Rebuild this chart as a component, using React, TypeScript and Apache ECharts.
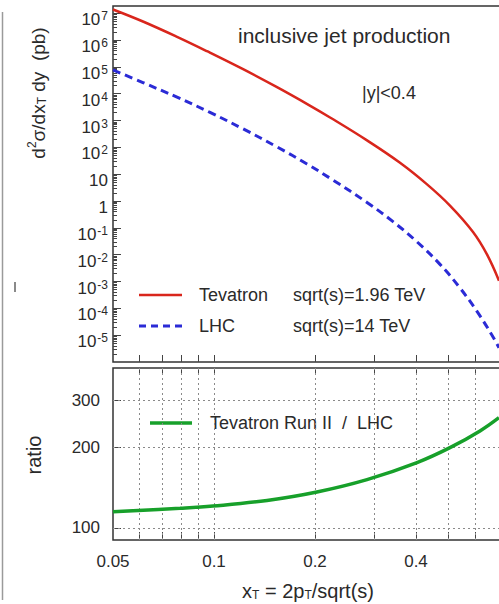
import React, { useEffect, useRef } from "react";
import * as echarts from "echarts";

// x_T sample points and cross sections d2sigma/dxT dy (pb), |y|<0.4
const tevatronX = [0.05, 0.0614, 0.0776, 0.0953, 0.1221, 0.1541, 0.1919, 0.2218, 0.2858, 0.3584, 0.4315, 0.505, 0.5916, 0.651, 0.707];
const tevatronY = [1.38e7, 4.92e6, 1.32e6, 3.85e5, 8.2e4, 1.75e4, 3.77e3, 1.3e3, 182, 26.7, 4.18, 0.678, 0.0703, 0.0103, 1.07e-3];

const lhcX = [0.05, 0.0614, 0.0776, 0.0973, 0.1221, 0.1541, 0.1893, 0.2263, 0.2858, 0.3417, 0.4028, 0.4717, 0.541, 0.608, 0.674, 0.707];
const lhcY = [7.67e4, 2.6e4, 7.43e3, 2.01e3, 489, 104, 24.0, 6.04, 0.883, 0.17, 0.0301, 4.36e-3, 5.74e-4, 7.66e-5, 1.0e-5, 3.39e-6];

// Tevatron Run II / LHC ratio
const ratioX = [0.05, 0.0792, 0.0993, 0.1439, 0.2027, 0.2858, 0.4028, 0.505, 0.6206, 0.707];
const ratioY = [114.9, 118.4, 120.7, 126.7, 136.3, 151.7, 175.7, 199.9, 231.1, 259.2];

// axis ticks and labels
const xTicks = [0.06, 0.07, 0.08, 0.09, 0.1, 0.2, 0.3, 0.4, 0.5, 0.6];
const xLabels = [0.05, 0.1, 0.2, 0.4];
const yMajor = [1e-5, 1e-4, 1e-3, 1e-2, 1e-1, 1, 10, 100, 1e3, 1e4, 1e5, 1e6, 1e7];
const ratioTicks = [100, 200, 300];

const FONT = "'Liberation Sans', Arial, Helvetica, sans-serif";
const INK = "#2a2a2a";
const RED = "#d9261c";
const BLUE = "#2b2bd6";
const GREEN = "#17a02a";

// minor log ticks 2..9 x 10^k inside the cross-section range
const yMinor: number[] = [];
for (let k = -6; k <= 7; k++) {
  for (let m = 2; m <= 9; m++) {
    const v = m * Math.pow(10, k);
    if (v > 1e-6 && v < 1.86e7) yMinor.push(v);
  }
}

const pairs = (xs: number[], ys: number[]) => xs.map((x, i) => [x, ys[i]]);

const powLabel = (v: number) => {
  const k = Math.round(Math.log10(v));
  if (k === 0) return "{b|1}";
  if (k === 1) return "{b|10}";
  return `{b|10}{e|${k}}`;
};

export default function App() {
  const ref = useRef<HTMLDivElement>(null);

  useEffect(() => {
    if (!ref.current) return;
    const chart = echarts.init(ref.current, undefined, { renderer: "svg" });

    const tickStyle = { color: "#444", width: 1 };
    const dotted = { color: "#8a8a8a", width: 1, type: [2, 3] as number[] };

    chart.setOption({
      animation: false,
      backgroundColor: "#fff",
      textStyle: { fontFamily: FONT },
      grid: [
        { left: 113, top: 6, width: 404, height: 356, show: true, borderColor: "#333", borderWidth: 1.5 },
        { left: 113, top: 368, width: 404, height: 172, show: true, borderColor: "#333", borderWidth: 1.5 },
      ],
      xAxis: [
        {
          gridIndex: 0, type: "log", logBase: 10, min: 0.05, max: 0.8,
          axisLine: { show: false },
          axisLabel: { show: false },
          axisTick: { inside: true, length: 7, lineStyle: tickStyle, customValues: xTicks },
          splitLine: { show: false },
        },
        {
          gridIndex: 1, type: "log", logBase: 10, min: 0.05, max: 0.8, position: "bottom",
          axisLine: { show: false },
          axisLabel: {
            customValues: xLabels, fontSize: 17, color: INK, fontFamily: FONT, margin: 13,
            formatter: (v: number) => String(+Number(v).toPrecision(3)),
          },
          axisTick: { inside: true, length: 8, lineStyle: tickStyle, customValues: xTicks },
          splitLine: { show: false },
        },
        {
          gridIndex: 1, type: "log", logBase: 10, min: 0.05, max: 0.8, position: "top",
          axisLine: { show: false },
          axisLabel: { show: false },
          axisTick: { inside: true, length: 6, lineStyle: tickStyle, customValues: xTicks },
          splitLine: { show: false },
        },
      ],
      yAxis: [
        {
          gridIndex: 0, type: "log", logBase: 10, min: 1e-6, max: 1.86e7, position: "left",
          axisLine: { show: false },
          axisTick: { inside: true, length: 8, lineStyle: tickStyle, customValues: yMajor },
          axisLabel: {
            customValues: yMajor, margin: 5, padding: [12, 0, 0, 0], verticalAlign: "middle",
            formatter: powLabel,
            rich: {
              b: { fontSize: 17, fontFamily: FONT, color: INK, lineHeight: 18, verticalAlign: "bottom" },
              e: { fontSize: 12, fontFamily: FONT, color: INK, lineHeight: 12, padding: [0, 0, 12, 1], verticalAlign: "top" },
            },
          },
          splitLine: { show: false },
        },
        {
          gridIndex: 0, type: "log", logBase: 10, min: 1e-6, max: 1.86e7, position: "left",
          axisLine: { show: false },
          axisTick: { inside: true, length: 4, lineStyle: tickStyle, customValues: yMinor },
          axisLabel: { show: false },
          splitLine: { show: false },
        },
        {
          gridIndex: 1, type: "log", logBase: 10, min: 90, max: 398, position: "left",
          axisLine: { show: false },
          axisTick: { inside: true, length: 8, lineStyle: tickStyle, customValues: ratioTicks },
          axisLabel: { customValues: ratioTicks, fontSize: 17, color: INK, fontFamily: FONT, margin: 13 },
          splitLine: { show: false },
        },
      ],
      series: [
        {
          name: "Tevatron", type: "line", xAxisIndex: 0, yAxisIndex: 0,
          data: pairs(tevatronX, tevatronY), showSymbol: false, smooth: 0.4,
          lineStyle: { color: RED, width: 2.5 },
        },
        {
          name: "LHC", type: "line", xAxisIndex: 0, yAxisIndex: 0,
          data: pairs(lhcX, lhcY), showSymbol: false, smooth: 0.4,
          lineStyle: { color: BLUE, width: 3, type: [8, 5] },
        },
        {
          name: "Tevatron Run II / LHC", type: "line", xAxisIndex: 1, yAxisIndex: 2,
          data: pairs(ratioX, ratioY), showSymbol: false, smooth: 0.4,
          lineStyle: { color: GREEN, width: 3.5 },
          z: 5,
          markLine: {
            silent: true, symbol: "none", label: { show: false },
            lineStyle: dotted,
            data: [
              ...xTicks.map((v) => ({ xAxis: v })),
              ...ratioTicks.map((v) => ({ yAxis: v })),
            ],
          },
        },
      ],
      graphic: [
        { type: "line", shape: { x1: 2.5, y1: 12, x2: 2.5, y2: 600 }, style: { stroke: "#9a9a9a", lineWidth: 1.5 } },
        { type: "line", shape: { x1: 15, y1: 282, x2: 15, y2: 292 }, style: { stroke: "#8a8a8a", lineWidth: 2 } },
        {
          type: "text", x: 37, y: 93, rotation: Math.PI / 2,
          style: {
            text: "{n|d}{s|2}{n|σ/dx}{t|T}{n| dy  (pb)}",
            align: "center", verticalAlign: "middle", fill: INK,
            rich: {
              n: { fontSize: 19, fontFamily: FONT, fill: INK, lineHeight: 22, verticalAlign: "bottom" },
              s: { fontSize: 12, fontFamily: FONT, fill: INK, lineHeight: 12, padding: [0, 0, 10, 0], verticalAlign: "top" },
              t: { fontSize: 12, fontFamily: FONT, fill: INK, lineHeight: 12, padding: [10, 0, 0, 0], verticalAlign: "bottom" },
            },
          },
        },
        {
          type: "text", x: 34, y: 455, rotation: Math.PI / 2,
          style: { text: "ratio", font: `20px ${FONT}`, fill: INK, align: "center", verticalAlign: "middle" },
        },
        {
          type: "text", x: 308, y: 590,
          style: {
            text: "{n|x}{t|T}{n| = 2p}{t|T}{n|/sqrt(s)}",
            align: "center", verticalAlign: "middle", fill: INK,
            rich: {
              n: { fontSize: 20, fontFamily: FONT, fill: INK, lineHeight: 22, verticalAlign: "bottom" },
              t: { fontSize: 12, fontFamily: FONT, fill: INK, lineHeight: 12, padding: [10, 0, 0, 0], verticalAlign: "bottom" },
            },
          },
        },
        {
          type: "text", x: 238, y: 35,
          style: { text: "inclusive jet production", font: `21px ${FONT}`, fill: INK, align: "left", verticalAlign: "middle" },
        },
        {
          type: "text", x: 362, y: 93,
          style: { text: "|y|<0.4", font: `18px ${FONT}`, fill: INK, align: "left", verticalAlign: "middle" },
        },
        { type: "line", shape: { x1: 139, y1: 295, x2: 182, y2: 295 }, style: { stroke: RED, lineWidth: 2.5 } },
        { type: "line", shape: { x1: 139, y1: 326, x2: 182, y2: 326 }, style: { stroke: BLUE, lineWidth: 3, lineDash: [7, 5] } },
        { type: "text", x: 199, y: 295, style: { text: "Tevatron", font: `18px ${FONT}`, fill: INK, verticalAlign: "middle" } },
        { type: "text", x: 293, y: 295, style: { text: "sqrt(s)=1.96 TeV", font: `18px ${FONT}`, fill: INK, verticalAlign: "middle" } },
        { type: "text", x: 199, y: 326, style: { text: "LHC", font: `18px ${FONT}`, fill: INK, verticalAlign: "middle" } },
        { type: "text", x: 293, y: 326, style: { text: "sqrt(s)=14 TeV", font: `18px ${FONT}`, fill: INK, verticalAlign: "middle" } },
        { type: "line", shape: { x1: 150, y1: 423, x2: 192, y2: 423 }, style: { stroke: GREEN, lineWidth: 3.5 } },
        { type: "text", x: 210, y: 423, style: { text: "Tevatron Run II  /  LHC", font: `18px ${FONT}`, fill: INK, verticalAlign: "middle" } },
      ],
    });

    return () => chart.dispose();
  }, []);

  return (
    <div style={{ position: "fixed", left: 0, top: 0, width: 499, height: 604, overflow: "hidden", background: "#fff" }}>
      <div ref={ref} style={{ width: 560, height: 604 }} />
    </div>
  );
}
